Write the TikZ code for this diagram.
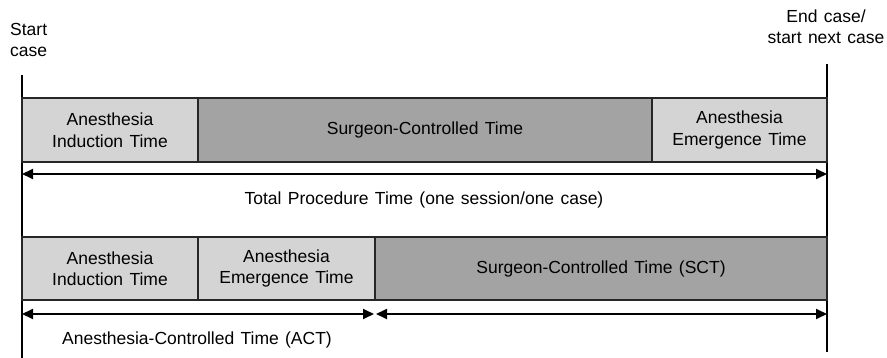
\documentclass[tikz,border=0pt]{standalone}
\usepackage{fontspec}
\setmainfont[WordSpace={1.3,1,1}]{Liberation Sans}
\usetikzlibrary{arrows.meta}
\definecolor{lightseg}{HTML}{D4D4D4}
\definecolor{darkseg}{HTML}{A3A3A3}
\tikzset{seg/.style={draw=black!85,line width=1.6pt,minimum height=64pt,inner sep=0pt,outer sep=0pt,align=center,font=\fontsize{17.5}{21.5}\selectfont}}
\tikzset{span/.style={line width=1.8pt,{Triangle[length=11pt,width=10pt]}-{Triangle[length=11pt,width=10pt]}}}
\tikzset{lbl/.style={inner sep=0pt,align=center,font=\fontsize{17.5}{21}\selectfont}}
\begin{document}
\begin{tikzpicture}[x=1pt,y=-1pt]
\useasboundingbox (0,0) rectangle (887,358);
% draw start and end lines
\coordinate (start top) at (22,75);
\coordinate (start bot) at (22,358);
\coordinate (end top) at (827,64);
\coordinate (end bot) at (827,352);
\draw[line width=2pt] (start top) -- (start bot);
\draw[line width=2pt] (end top) -- (end bot);
\node[lbl,align=left,anchor=base west] (start) at (10,57) {Start\\case};
\node[lbl,anchor=base] (end) at (826,44) {End case/\\start next case};
% draw first row
\node[seg,fill=lightseg,minimum width=176pt] (ind1) at (110,130) {Anesthesia\\Induction Time};
\node[seg,fill=darkseg,minimum width=454pt] (sur1) at (425,130) {Surgeon-Controlled Time};
\node[seg,fill=lightseg,minimum width=175pt] (eme1) at (739.5,130) {Anesthesia\\Emergence Time};
% draw total arrow
\coordinate (tot w) at (22,174);
\coordinate (tot e) at (827,174);
\draw[span] (tot w) -- (tot e);
\node[lbl] (tot) at (424,200) {Total Procedure Time (one session/one case)};
% draw second row
\node[seg,fill=lightseg,minimum width=176pt,minimum height=63pt] (ind2) at (110,268.5) {Anesthesia\\Induction Time};
\node[seg,fill=lightseg,minimum width=177pt,minimum height=63pt] (eme2) at (286.5,268.5) {Anesthesia\\Emergence Time};
\node[seg,fill=darkseg,minimum width=452pt,minimum height=63pt] (sct) at (601,268.5) {Surgeon-Controlled Time (SCT)};
% draw act and sct arrows
\coordinate (act w) at (22,314);
\coordinate (act e) at (374,314);
\coordinate (sct w) at (376,314);
\coordinate (sct e) at (827,314);
\draw[span] (act w) -- (act e);
\draw[span] (sct w) -- (sct e);
\node[lbl] (act) at (197,340) {Anesthesia-Controlled Time (ACT)};
\end{tikzpicture}
\end{document}
